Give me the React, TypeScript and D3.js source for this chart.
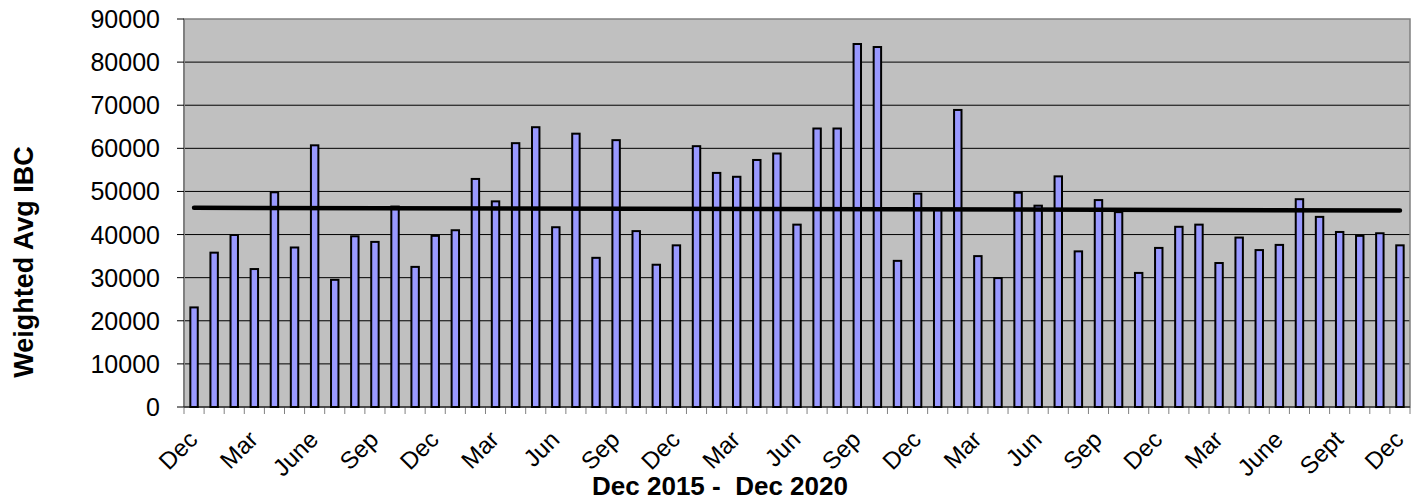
import React from "react";
import * as d3 from "d3";

const categories = [
  "Dec15","Jan16","Feb16","Mar16","Apr16","May16","Jun16","Jul16","Aug16","Sep16","Oct16","Nov16",
  "Dec16","Jan17","Feb17","Mar17","Apr17","May17","Jun17","Jul17","Aug17","Sep17","Oct17","Nov17",
  "Dec17","Jan18","Feb18","Mar18","Apr18","May18","Jun18","Jul18","Aug18","Sep18","Oct18","Nov18",
  "Dec18","Jan19","Feb19","Mar19","Apr19","May19","Jun19","Jul19","Aug19","Sep19","Oct19","Nov19",
  "Dec19","Jan20","Feb20","Mar20","Apr20","May20","Jun20","Jul20","Aug20","Sep20","Oct20","Nov20",
  "Dec20",
];

const values = [
  23100, 35800, 39900, 32000, 49800, 37000, 60700, 29500, 39600, 38300,
  46500, 32500, 39700, 41000, 52900, 47700, 61200, 64900, 41700, 63400,
  34600, 61900, 40800, 33000, 37500, 60500, 54300, 53400, 57300, 58800,
  42300, 64600, 64600, 84200, 83500, 33900, 49500, 45700, 68900, 35000,
  29900, 49700, 46700, 53500, 36100, 48000, 45200, 31100, 36900, 41800,
  42300, 33400, 39300, 36400, 37600, 48200, 44100, 40600, 39700, 40300,
  37500,
];

// label shown every third month
const tickLabels = [
  "Dec","Mar","June","Sep","Dec","Mar","Jun","Sep","Dec","Mar","Jun",
  "Sep","Dec","Mar","Jun","Sep","Dec","Mar","June","Sept","Dec",
];

const yTicks = [0, 10000, 20000, 30000, 40000, 50000, 60000, 70000, 80000, 90000];

// trend (average) line endpoints: first and last month
const trendValues = [46200, 45600];

const yTitle = "Weighted Avg IBC";
const xTitle = "Dec 2015 -  Dec 2020";

export default function App() {
  const W = 1424;
  const H = 504;
  const left = 184;
  const right = 1410;
  const top = 19;
  const bottom = 407;
  const font = "'Liberation Sans', Arial, Helvetica, sans-serif";

  const x = d3.scaleBand<string>().domain(categories).range([left, right]).padding(0);
  const y = d3.scaleLinear().domain([0, 90000]).range([bottom, top]);
  const bw = x.bandwidth();
  const barW = bw * 0.37;

  const firstC = x(categories[0])! + bw / 2;
  const lastC = x(categories[categories.length - 1])! + bw / 2;
  const trend = d3.line<number>()
    .x((_, i) => (i === 0 ? firstC : lastC))
    .y((d) => y(d));

  return (
    <svg
      width={W}
      height={H}
      style={{ position: "absolute", left: 0, top: 0, background: "#fff" }}
      fontFamily={font}
    >
      <rect x={left} y={top} width={right - left} height={bottom - top} fill="#C0C0C0" />
      {yTicks.filter((t) => t > 0 && t < 90000).map((t) => (
        <line key={t} x1={left} x2={right} y1={y(t)} y2={y(t)} stroke="#000" strokeWidth={1} />
      ))}
      <rect x={left} y={top} width={right - left} height={bottom - top} fill="none" stroke="#808080" strokeWidth={1.5} />
      <line x1={left} x2={left} y1={top} y2={bottom} stroke="#808080" strokeWidth={2} />
      {/* y ticks */}
      {yTicks.map((t) => (
        <g key={t}>
          <line x1={177} x2={left} y1={y(t)} y2={y(t)} stroke="#000" strokeWidth={1} />
          <text x={160} y={y(t)} dy="0.36em" textAnchor="end" fontSize={25} fill="#000">
            {t}
          </text>
        </g>
      ))}
      {/* x ticks */}
      {categories.map((c) => (
        <line key={c} x1={x(c)!} x2={x(c)!} y1={bottom} y2={bottom + 7} stroke="#808080" strokeWidth={1} />
      ))}
      <line x1={right} x2={right} y1={bottom} y2={bottom + 7} stroke="#808080" strokeWidth={1} />
      {/* bars */}
      {values.map((v, i) => {
        const cx = x(categories[i])! + bw / 2;
        return (
          <rect
            key={i}
            x={cx - barW / 2}
            y={y(v)}
            width={barW}
            height={bottom - y(v)}
            fill="#9999FF"
            stroke="#000"
            strokeWidth={2}
          />
        );
      })}
      <line x1={left} x2={right} y1={bottom} y2={bottom} stroke="#000" strokeWidth={1} />
      {/* trend line */}
      <path d={trend(trendValues) || ""} fill="none" stroke="#000" strokeWidth={4.5} strokeLinecap="round" />
      {/* x labels */}
      {tickLabels.map((lab, k) => {
        const cx = x(categories[k * 3])! + bw / 2;
        return (
          <text
            key={k}
            transform={`translate(${cx + 5},${441}) rotate(-45)`}
            textAnchor="end"
            fontSize={24}
            fill="#000"
          >
            {lab}
          </text>
        );
      })}
      {/* titles */}
      <text
        transform={`translate(33,262) rotate(-90)`}
        textAnchor="middle"
        fontSize={27}
        fontWeight="bold"
        fill="#000"
      >
        {yTitle}
      </text>
      <text x={720} y={495} textAnchor="middle" fontSize={26} fontWeight="bold" fill="#000" style={{ whiteSpace: "pre" }}>
        {xTitle}
      </text>
    </svg>
  );
}
